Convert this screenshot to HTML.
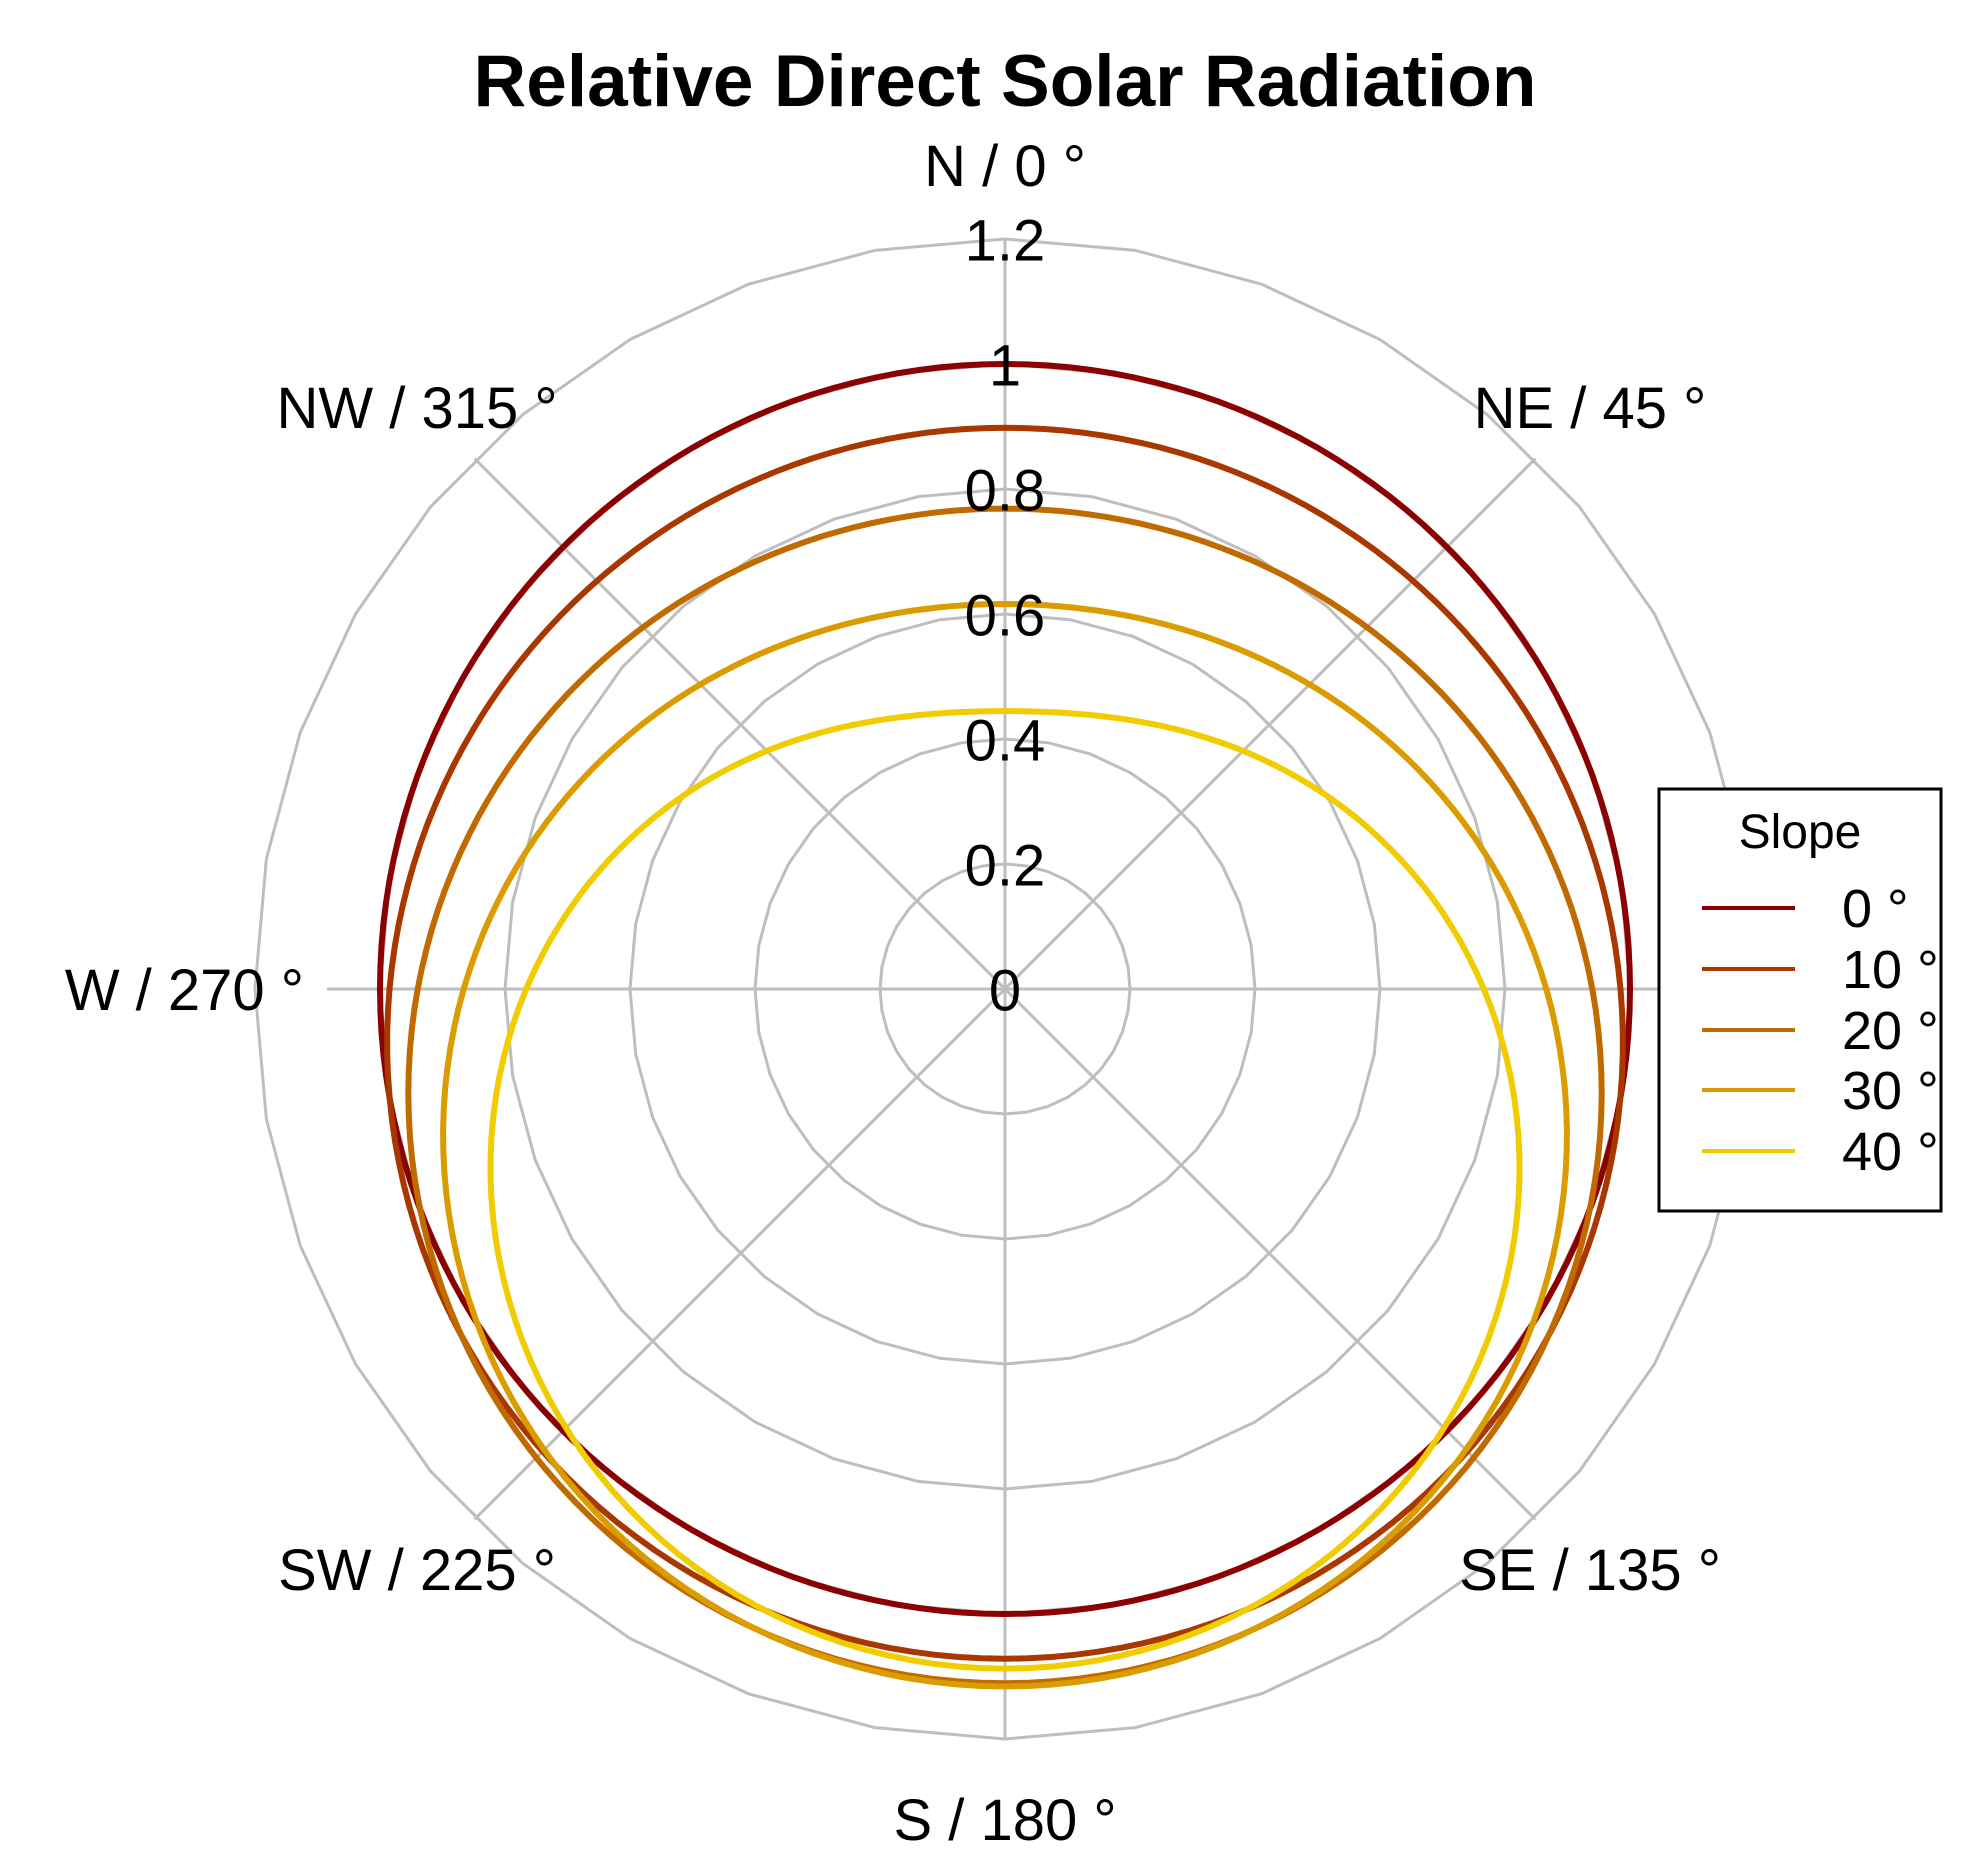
<!DOCTYPE html>
<html><head><meta charset="utf-8"><style>
html,body{margin:0;padding:0;background:#fff;}
svg{display:block;}
text{font-family:"Liberation Sans",Arial,sans-serif;fill:#000;}
</style></head><body>
<svg id="s" width="1983" height="1869" viewBox="0 0 1983 1869" xmlns="http://www.w3.org/2000/svg">
<g id="grid" stroke="#bebebe" stroke-width="3" fill="none"></g>
<g id="curves" fill="none" stroke-width="6"></g>
<text x="1005" y="106" font-size="73" font-weight="bold" text-anchor="middle">Relative Direct Solar Radiation</text>
<g font-size="58" text-anchor="middle">
<text x="1005" y="186">N / 0 °</text>
<text x="1590" y="428">NE / 45 °</text>
<text x="417" y="428">NW / 315 °</text>
<text x="304" y="1010" text-anchor="end">W / 270 °</text>
<text x="1590" y="1590">SE / 135 °</text>
<text x="417" y="1590">SW / 225 °</text>
<text x="1005" y="1840">S / 180 °</text>
</g>
<g font-size="58" text-anchor="middle" dominant-baseline="central">
<text x="1005" y="991">0</text>
<text x="1005" y="866">0.2</text>
<text x="1005" y="741">0.4</text>
<text x="1005" y="616">0.6</text>
<text x="1005" y="491">0.8</text>
<text x="1005" y="366">1</text>
<text x="1005" y="241">1.2</text>
</g>
<rect x="1659" y="789" width="282" height="422" fill="#fff" stroke="#000" stroke-width="3"/>
<text x="1800" y="848" font-size="48" text-anchor="middle">Slope</text>
<g stroke-width="4">
<line x1="1702" y1="908" x2="1795" y2="908" stroke="#8b0000"/>
<line x1="1702" y1="969" x2="1795" y2="969" stroke="#a83800"/>
<line x1="1702" y1="1030" x2="1795" y2="1030" stroke="#c06a00"/>
<line x1="1702" y1="1090" x2="1795" y2="1090" stroke="#da9c00"/>
<line x1="1702" y1="1151" x2="1795" y2="1151" stroke="#f0cc00"/>
</g>
<g font-size="54">
<text x="1842" y="927">0 °</text>
<text x="1842" y="988">10 °</text>
<text x="1842" y="1049">20 °</text>
<text x="1842" y="1109">30 °</text>
<text x="1842" y="1170">40 °</text>
</g>
</svg>
<script>
var cx=1005,cy=989,R=625,ns="http://www.w3.org/2000/svg";
var g=document.getElementById('grid'),c=document.getElementById('curves');
function el(p,t,a){var e=document.createElementNS(ns,t);for(var k in a)e.setAttribute(k,a[k]);p.appendChild(e);return e;}
for(var k=1;k<=6;k++){var r=k*R*0.2,pts=[];for(var i=0;i<36;i++){var a=i*10*Math.PI/180;pts.push((cx+r*Math.sin(a)).toFixed(1)+','+(cy-r*Math.cos(a)).toFixed(1));}
el(g,'polygon',{points:pts.join(' ')});}
for(var d=0;d<360;d+=45){var a=d*Math.PI/180,r=750;if(d==270)r=678;el(g,'line',{x1:cx,y1:cy,x2:cx+r*Math.sin(a),y2:cy-r*Math.cos(a)});}
var cols=['#8b0000','#a83800','#c06a00','#da9c00','#f0cc00'];
for(var j=0;j<5;j++){var s=j*10*Math.PI/180,pts=[];for(var i=0;i<=360;i+=2){var t=i*Math.PI/180,r=(Math.cos(s)-0.5*Math.sin(s)*Math.cos(t))*R;pts.push((cx+r*Math.sin(t)).toFixed(1)+','+(cy-r*Math.cos(t)).toFixed(1));}
el(c,'polygon',{points:pts.join(' '),stroke:cols[j]});}
var sv=document.getElementById('s');sv.insertBefore(g,sv.firstChild);
</script>
</body></html>
